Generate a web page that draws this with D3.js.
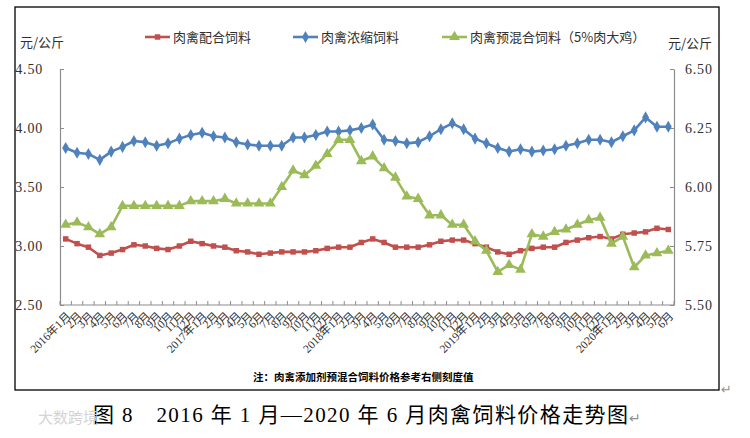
<!DOCTYPE html>
<html>
<head>
<meta charset="utf-8">
<script src="https://cdn.jsdelivr.net/npm/d3@7"></script>
<style>
  body { margin: 0; background: #fff; }
  svg { display: block; }
</style>
</head>
<body>
<svg id="chart" width="750" height="438"></svg>
<script>
// months 2016-01 .. 2020-06: unique keys for the scale, plus the tick labels
const monthKeys = [];
const monthLabels = [];
[2016, 2017, 2018, 2019, 2020].forEach(y => {
  const last = y === 2020 ? 6 : 12;
  for (let m = 1; m <= last; m++) {
    monthKeys.push(`${y}-${m}`);
    monthLabels.push(m === 1 ? `${y}年1月` : `${m}月`);
  }
});

// 肉禽配合饲料 (left axis)
const compound = [3.06, 3.02, 2.99, 2.92, 2.94, 2.97, 3.01, 3.00, 2.98, 2.97, 3.00, 3.04,
  3.02, 3.00, 2.99, 2.96, 2.95, 2.93, 2.94, 2.95, 2.95, 2.95, 2.96, 2.98,
  2.99, 2.99, 3.03, 3.06, 3.03, 2.99, 2.99, 2.99, 3.01, 3.04, 3.05, 3.05,
  3.02, 2.99, 2.95, 2.93, 2.96, 2.98, 2.99, 2.99, 3.03, 3.05, 3.07, 3.08,
  3.06, 3.10, 3.11, 3.12, 3.15, 3.14];

// 肉禽浓缩饲料 (left axis)
const concentrate = [3.83, 3.79, 3.78, 3.73, 3.80, 3.84, 3.89, 3.88, 3.85, 3.87, 3.91, 3.94,
  3.96, 3.93, 3.92, 3.88, 3.86, 3.85, 3.85, 3.85, 3.92, 3.92, 3.94, 3.97,
  3.97, 3.98, 4.00, 4.03, 3.90, 3.89, 3.87, 3.88, 3.93, 3.99, 4.04, 3.99,
  3.91, 3.87, 3.83, 3.80, 3.82, 3.80, 3.81, 3.82, 3.85, 3.87, 3.90, 3.90,
  3.88, 3.93, 3.98, 4.09, 4.01, 4.01];

// 肉禽预混合饲料（5%肉大鸡） (right axis)
const premix = [5.84, 5.85, 5.83, 5.80, 5.83, 5.92, 5.92, 5.92, 5.92, 5.92, 5.92, 5.94,
  5.94, 5.94, 5.95, 5.93, 5.93, 5.93, 5.93, 6.00, 6.07, 6.05, 6.09, 6.14,
  6.20, 6.20, 6.11, 6.13, 6.08, 6.04, 5.96, 5.95, 5.88, 5.88, 5.84, 5.84,
  5.77, 5.73, 5.64, 5.67, 5.65, 5.80, 5.79, 5.81, 5.82, 5.84, 5.86, 5.87,
  5.76, 5.79, 5.66, 5.71, 5.72, 5.73];

const leftTicks = [2.5, 3.0, 3.5, 4.0, 4.5];
const rightTicks = [5.5, 5.75, 6.0, 6.25, 6.5];

const seriesNames = ["肉禽配合饲料", "肉禽浓缩饲料", "肉禽预混合饲料（5%肉大鸡）"];
const seriesColors = ["#C0504D", "#4F81BD", "#9BBB59"];

const svg = d3.select("#chart");
const serif = "'Liberation Serif', 'DejaVu Serif', 'Noto Sans CJK SC', serif";
const cjk = "'Noto Sans CJK SC', sans-serif";
const axisColor = "#8c8c8c";

const plot = { left: 60, right: 674, top: 69, bottom: 305 };

const x = d3.scaleBand()
  .domain(monthKeys)
  .range([plot.left, plot.right]);

const yLeft = d3.scaleLinear()
  .domain([2.5, 4.5])
  .range([plot.bottom, plot.top]);

const yRight = d3.scaleLinear()
  .domain([5.5, 6.5])
  .range([plot.bottom, plot.top]);

// outer frame
svg.append("rect")
  .attr("x", 15).attr("y", 7)
  .attr("width", 704).attr("height", 383)
  .attr("fill", "none")
  .attr("stroke", "#000")
  .attr("stroke-width", 1.3);

// axes
function styleAxis(g) {
  g.select(".domain").attr("stroke", axisColor).attr("stroke-width", 1.2);
  g.selectAll(".tick line").attr("stroke", axisColor).attr("stroke-width", 1);
  g.selectAll("text")
    .attr("fill", "#303030")
    .style("font-family", serif)
    .style("font-size", "14px")
    .style("letter-spacing", "0.8px");
}

svg.append("g")
  .attr("transform", `translate(${plot.left},0)`)
  .call(d3.axisLeft(yLeft).tickValues(leftTicks).tickSizeInner(-4).tickSizeOuter(0)
    .tickPadding(17).tickFormat(d3.format(".2f")))
  .call(styleAxis);

svg.append("g")
  .attr("transform", `translate(${plot.right},0)`)
  .call(d3.axisRight(yRight).tickValues(rightTicks).tickSizeInner(-4).tickSizeOuter(0)
    .tickPadding(11).tickFormat(d3.format(".2f")))
  .call(styleAxis);

// x axis: ticks between categories
const xAxis = svg.append("g")
  .attr("transform", `translate(0,${plot.bottom})`);

xAxis.append("line")
  .attr("x1", plot.left).attr("x2", plot.right)
  .attr("stroke", axisColor).attr("stroke-width", 1.2);

const boundaries = monthKeys.map(m => x(m)).concat([plot.right]);
xAxis.selectAll(".xtick")
  .data(boundaries)
  .join("line")
  .attr("class", "xtick")
  .attr("x1", d => d).attr("x2", d => d)
  .attr("y1", 0).attr("y2", -4)
  .attr("stroke", axisColor);

xAxis.selectAll(".xlabel")
  .data(monthKeys)
  .join("text")
  .attr("class", "xlabel")
  .attr("transform", d => `translate(${x(d) + x.bandwidth() / 2 + 3},9) rotate(-45)`)
  .attr("text-anchor", "end")
  .attr("dy", "0.35em")
  .attr("fill", "#303030")
  .style("font-family", serif)
  .style("font-size", "11.5px")
  .text((d, i) => monthLabels[i]);

// unit labels
svg.append("text")
  .attr("x", 20).attr("y", 47)
  .style("font-family", cjk).style("font-size", "13px")
  .attr("fill", "#303030")
  .text("元/公斤");

svg.append("text")
  .attr("x", 668).attr("y", 48)
  .style("font-family", cjk).style("font-size", "13px")
  .attr("fill", "#303030")
  .text("元/公斤");

// series
const cx = (d, i) => x(monthKeys[i]) + x.bandwidth() / 2;
const series = [
  { values: compound, y: yLeft, shape: d3.symbolSquare, size: 30 },
  { values: concentrate, y: yLeft, shape: d3.symbolDiamond, size: 42 },
  { values: premix, y: yRight, shape: d3.symbolTriangle, size: 50 }
];

series.forEach((s, k) => {
  const line = d3.line()
    .x(cx)
    .y(d => s.y(d));

  svg.append("path")
    .datum(s.values)
    .attr("fill", "none")
    .attr("stroke", seriesColors[k])
    .attr("stroke-width", 2.6)
    .attr("stroke-linejoin", "round")
    .attr("d", line);

  svg.append("g")
    .selectAll("path")
    .data(s.values)
    .join("path")
    .attr("transform", (d, i) => `translate(${cx(d, i)},${s.y(d)})`)
    .attr("d", d3.symbol().type(s.shape).size(s.size))
    .attr("fill", seriesColors[k]);
});

// legend
const legendX = [145, 293, 442];
const legend = svg.append("g");
seriesNames.forEach((name, k) => {
  const g = legend.append("g").attr("transform", `translate(${legendX[k]},37)`);
  g.append("line")
    .attr("x1", 0).attr("x2", 25)
    .attr("stroke", seriesColors[k]).attr("stroke-width", 2.6);
  g.append("path")
    .attr("transform", "translate(12.5,0)")
    .attr("d", d3.symbol().type(series[k].shape).size(series[k].size)())
    .attr("fill", seriesColors[k]);
  g.append("text")
    .attr("x", 28).attr("dy", "0.36em")
    .style("font-family", cjk).style("font-size", "13px")
    .attr("fill", "#303030")
    .text(name);
});

// note
svg.append("text")
  .attr("x", 253).attr("y", 381)
  .style("font-family", cjk).style("font-size", "10.5px")
  .style("font-weight", "bold")
  .attr("fill", "#000")
  .text("注：肉禽添加剂预混合饲料价格参考右侧刻度值");

svg.append("text")
  .attr("x", 721).attr("y", 394)
  .style("font-family", "'DejaVu Sans', sans-serif").style("font-size", "13px")
  .attr("fill", "#909090")
  .text("↵");

// caption under the frame
svg.append("text")
  .attr("x", 93).attr("y", 422)
  .attr("textLength", 535)
  .style("font-family", serif).style("font-size", "21px")
  .attr("fill", "#000")
  .text("图 8　2016 年 1 月—2020 年 6 月肉禽饲料价格走势图");

svg.append("text")
  .attr("x", 629).attr("y", 423)
  .style("font-family", "'DejaVu Sans', sans-serif").style("font-size", "14px")
  .attr("fill", "#909090")
  .text("↵");

// watermark
svg.append("text")
  .attr("x", 38).attr("y", 423)
  .style("font-family", cjk).style("font-size", "15px")
  .attr("fill", "#d4d4d4")
  .text("大数跨境");
</script>
</body>
</html>
